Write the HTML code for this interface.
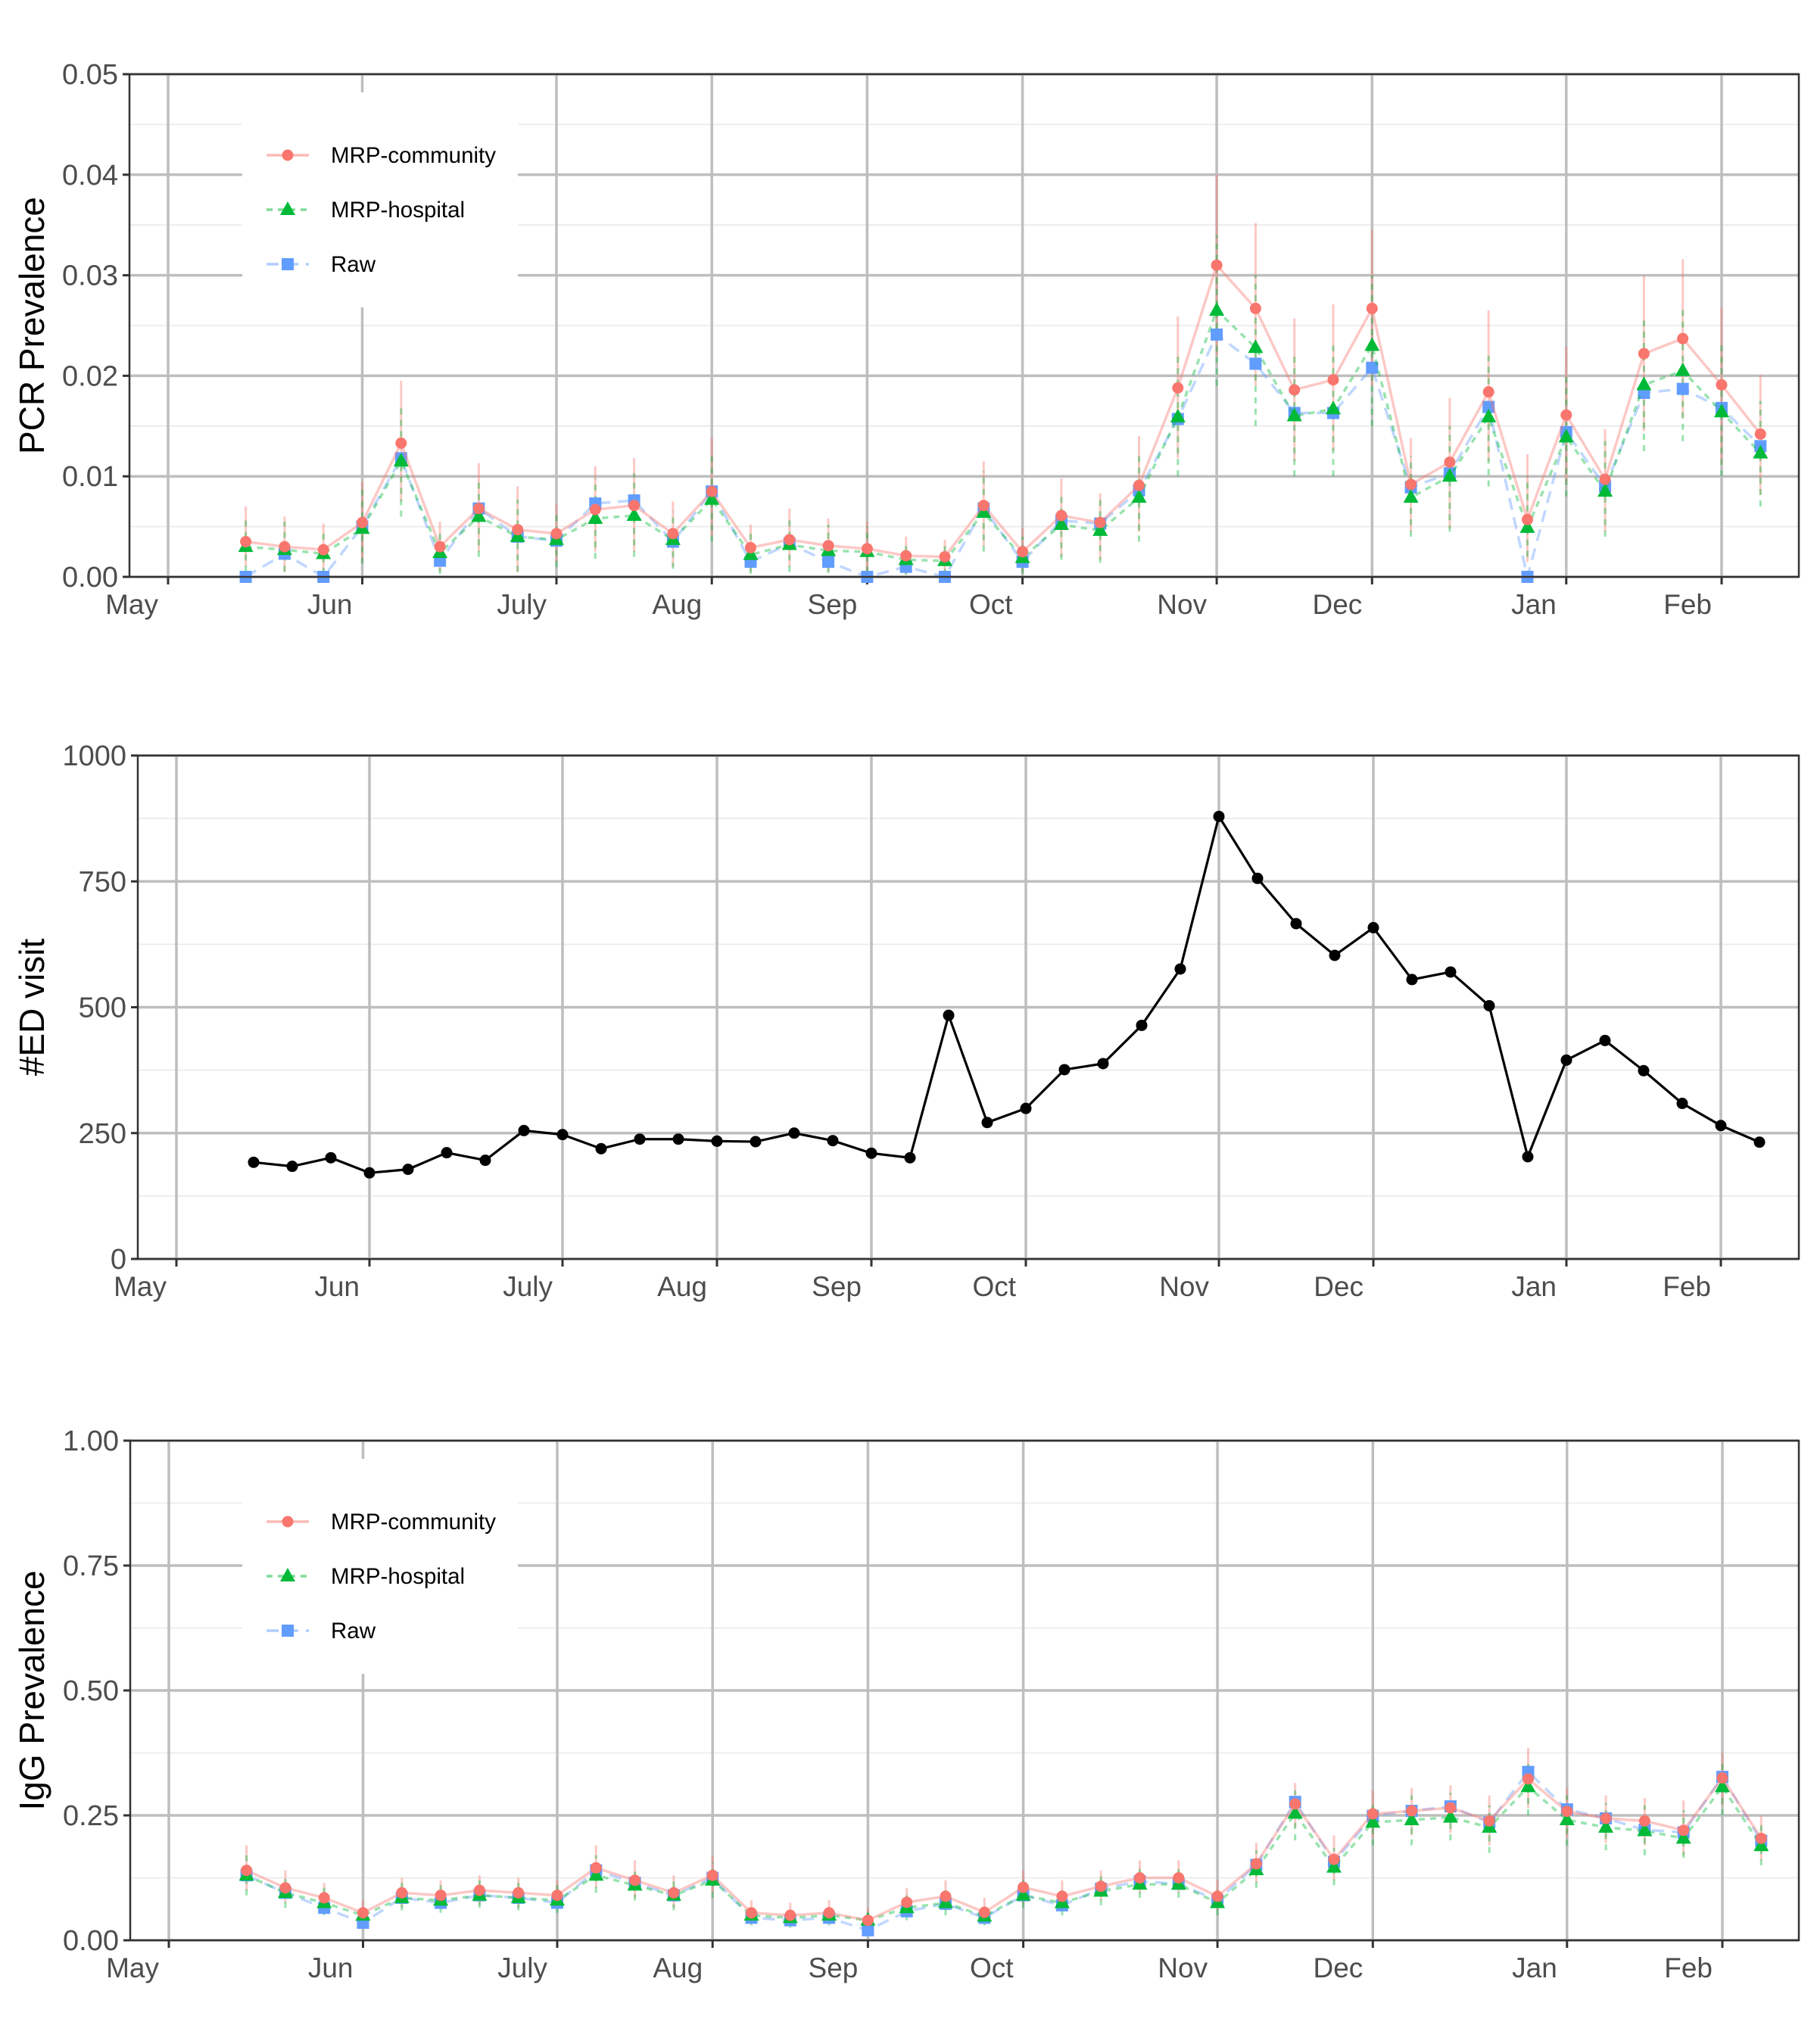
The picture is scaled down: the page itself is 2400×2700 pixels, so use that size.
<!DOCTYPE html>
<html><head><meta charset="utf-8">
<style>
html,body{margin:0;padding:0;background:#fff;}
svg{display:block;font-family:"Liberation Sans",Arial,sans-serif;}
</style></head>
<body>
<svg id="chart" width="2400" height="2700" viewBox="0 0 2400 2700" xmlns="http://www.w3.org/2000/svg"></svg>
<script>
// ---- data (weeks since start of May; points at weeks 2..41) ----
const weeks = [2,3,4,5,6,7,8,9,10,11,12,13,14,15,16,17,18,19,20,21,22,23,24,25,26,27,28,29,30,31,32,33,34,35,36,37,38,39,40,41];
const monthLabels = ["May","Jun","July","Aug","Sep","Oct","Nov","Dec","Jan","Feb"];
const monthWeeks = [0,5,10,14,18,22,27,31,36,40];

const pcrCommunity = [.0035,.003,.0027,.0054,.0133,.003,.0068,.0047,.0043,.0067,.0071,.0043,.0085,.0029,.0037,.0031,.0028,.0021,.002,.0071,.0025,.0061,.0054,.0091,.0188,.031,.0267,.0186,.0196,.0267,.0092,.0114,.0184,.0057,.0161,.0097,.0222,.0237,.0191,.0142];
const pcrCommunityLo = [.001,.0005,.0005,.0015,.0075,.0005,.0025,.0005,.0015,.0025,.0025,.001,.004,.0005,.001,.0005,.0005,.0003,.0003,.003,.0005,.002,.0017,.0045,.0118,.022,.019,.0115,.0125,.019,.0045,.0048,.0115,.0015,.0092,.0045,.0145,.0158,.0113,.0082];
const pcrCommunityHi = [.007,.006,.0053,.0095,.0195,.0055,.0113,.009,.0072,.011,.0118,.0075,.0138,.0052,.0068,.0058,.0055,.004,.0037,.0115,.0048,.0098,.0083,.014,.0259,.040,.0352,.0257,.0271,.0345,.0138,.0178,.0265,.0122,.0229,.0147,.030,.0316,.0268,.0201];
const pcrHospital = [.003,.0027,.0023,.0048,.0115,.0024,.006,.004,.0037,.0058,.0061,.0037,.0077,.0022,.0032,.0026,.0025,.0017,.0016,.0064,.0019,.0052,.0046,.0079,.0159,.0265,.0228,.016,.0167,.023,.0079,.01,.0159,.0049,.0139,.0085,.0191,.0205,.0164,.0123];
const pcrHospitalLo = [.0005,.0005,.0003,.0013,.006,.0003,.002,.0005,.001,.0018,.002,.0008,.0035,.0003,.0005,.0004,.0004,.0002,.0002,.0025,.0003,.0017,.0014,.0035,.010,.019,.015,.010,.010,.015,.004,.0045,.009,.002,.008,.004,.0125,.0135,.010,.007];
const pcrHospitalHi = [.006,.0055,.0047,.0088,.0168,.0048,.0098,.0077,.0063,.0098,.0103,.0065,.0125,.0045,.006,.0052,.005,.0035,.0033,.0105,.004,.0085,.0077,.012,.022,.034,.03,.022,.023,.03,.012,.015,.022,.010,.02,.0135,.0255,.027,.023,.0175];
const pcrRaw = [0,.0023,0,.005,.0118,.0016,.0068,.004,.0036,.0073,.0076,.0035,.0085,.0015,.0033,.0015,0,.001,0,.0068,.0015,.0056,.0053,.0086,.0157,.0241,.0212,.0163,.0163,.0208,.0089,.0103,.0169,0,.0144,.009,.0183,.0187,.0168,.013];

const edVisits = [192,184,201,171,178,211,196,255,247,219,238,238,234,233,250,235,210,201,484,271,299,376,388,464,576,879,756,666,603,658,555,570,503,203,395,434,374,309,265,232];

const iggCommunity = [.14,.105,.085,.055,.095,.09,.1,.095,.09,.145,.12,.095,.13,.055,.05,.055,.04,.076,.088,.056,.106,.088,.108,.125,.125,.088,.153,.273,.162,.253,.259,.265,.239,.323,.258,.244,.239,.22,.325,.204];
const iggCommunityLo = [.1,.075,.06,.035,.065,.065,.07,.065,.065,.105,.085,.065,.095,.035,.03,.035,.025,.05,.06,.035,.075,.06,.08,.095,.095,.06,.115,.225,.12,.205,.21,.215,.19,.265,.205,.195,.19,.17,.27,.16];
const iggCommunityHi = [.19,.14,.115,.08,.125,.12,.13,.125,.12,.19,.16,.13,.17,.08,.075,.08,.065,.105,.12,.085,.14,.12,.14,.16,.16,.12,.195,.315,.21,.3,.305,.31,.29,.385,.305,.29,.285,.28,.375,.25];
const iggHospital = [.13,.095,.075,.05,.085,.08,.09,.085,.08,.13,.11,.09,.12,.05,.045,.05,.04,.065,.075,.048,.09,.075,.098,.112,.112,.075,.141,.254,.146,.236,.241,.246,.226,.307,.241,.226,.219,.204,.307,.189];
const iggHospitalLo = [.09,.065,.05,.03,.06,.055,.065,.06,.055,.095,.08,.06,.085,.03,.025,.03,.02,.04,.05,.03,.065,.05,.07,.085,.085,.05,.105,.2,.11,.19,.19,.2,.175,.25,.19,.18,.17,.165,.25,.15];
const iggHospitalHi = [.17,.13,.105,.075,.115,.11,.12,.115,.11,.17,.145,.12,.155,.075,.07,.075,.06,.09,.1,.07,.12,.1,.13,.145,.145,.1,.18,.3,.185,.28,.29,.295,.27,.36,.29,.275,.27,.26,.36,.235];
const iggRaw = [.13,.095,.065,.035,.085,.075,.09,.085,.075,.14,.115,.09,.125,.045,.04,.045,.02,.058,.073,.045,.09,.07,.103,.118,.113,.08,.151,.277,.157,.249,.259,.268,.236,.337,.262,.244,.221,.216,.327,.199];

const pcrTicks = [0,0.01,0.02,0.03,0.04,0.05];
const pcrTickLabels = ["0.00","0.01","0.02","0.03","0.04","0.05"];
const edTicks = [0,250,500,750,1000];
const edTickLabels = ["0","250","500","750","1000"];
const iggTicks = [0,0.25,0.5,0.75,1];
const iggTickLabels = ["0.00","0.25","0.50","0.75","1.00"];

const NS = "http://www.w3.org/2000/svg";
const svg = document.getElementById("chart");
function mk(tag, attrs, parent){
  const e = document.createElementNS(NS, tag);
  for (const k in attrs) e.setAttribute(k, attrs[k]);
  (parent||svg).appendChild(e);
  return e;
}
const COL = {c:"#F8766D", h:"#00BA38", r:"#619CFF"};

function panel(cfg){
  const g = mk("g", {});
  
  
  const xs = w => cfg.x0 + w*cfg.wk;
  const ys = v => cfg.bottom - (v/cfg.ymax)*(cfg.bottom-cfg.top);
  for (let i=0;i<cfg.ticks.length-1;i++){
    const v = (cfg.ticks[i]+cfg.ticks[i+1])/2;
    const l = mk("line",{x1:cfg.left,x2:cfg.right,y1:ys(v),y2:ys(v),stroke:"#ebebeb","stroke-width":1.8},g);
    
    
  }
  cfg.ticks.forEach((v,i)=>{
    const l = mk("line",{x1:cfg.left,x2:cfg.right,y1:ys(v),y2:ys(v),stroke:"#bebebe","stroke-width":3.5},g);
    
    
    const t = mk("line",{x1:cfg.left-9,x2:cfg.left,y1:ys(v),y2:ys(v),stroke:"#333","stroke-width":3},g);
    
    
    const tx = mk("text",{x:cfg.left-15,y:ys(v)+13,"text-anchor":"end","font-size":38,fill:"#4d4d4d"},g);
    tx.textContent = cfg.labels[i];
    
    
  });
  monthWeeks.forEach((w,i)=>{
    const l = mk("line",{x1:xs(w),x2:xs(w),y1:cfg.top,y2:cfg.bottom,stroke:"#bebebe","stroke-width":3.5},g);
    
    
    const t = mk("line",{x1:xs(w),x2:xs(w),y1:cfg.bottom,y2:cfg.bottom+10,stroke:"#333","stroke-width":3},g);
    
    
    const tx = mk("text",{x:xs(w)-13,y:cfg.bottom+49,"text-anchor":"end","font-size":37,fill:"#4d4d4d"},g);
    tx.textContent = monthLabels[i];
    
    
  });
  const yt = mk("text",{x:0,y:0,"text-anchor":"middle","font-size":46,fill:"#000",transform:`translate(${cfg.titleX},${(cfg.top+cfg.bottom)/2}) rotate(-90)`},g);
  yt.textContent = cfg.title;
  
  
  return {g,xs,ys};
}

function series(p, vals, color, dash, shape, name){
  const pts = vals.map((v,i)=>`${p.xs(weeks[i])},${p.ys(v)}`).join(" ");
  const pl = mk("polyline",{points:pts,fill:"none",stroke:color,"stroke-width":3.5,"stroke-opacity":0.4,"stroke-dasharray":dash},p.g);
  
  
  vals.forEach((v,i)=>{
    const x=p.xs(weeks[i]), y=p.ys(v);
    let m;
    if (shape==="circle") m = mk("circle",{cx:x,cy:y,r:7.5,fill:color},p.g);
    else if (shape==="tri") m = mk("polygon",{points:`${x},${y-11} ${x-10},${y+7} ${x+10},${y+7}`,fill:color},p.g);
    else m = mk("rect",{x:x-8,y:y-8,width:16,height:16,fill:color},p.g);
    
    
  });
}
function errbars(p, lo, hi, color, dash, name){
  lo.forEach((v,i)=>{
    const x=p.xs(weeks[i]);
    const l = mk("line",{x1:x,x2:x,y1:p.ys(v),y2:p.ys(hi[i]),stroke:color,"stroke-width":3,"stroke-opacity":0.4,"stroke-dasharray":dash},p.g);
    
    
  });
}
function legend(p, cfg){
  const lg = mk("g",{},p.g);
  
  
  const bx = mk("rect",{x:320,y:cfg.top+24,width:364,height:284,fill:"#fff"},lg);
  
  
  const items = [["MRP-community",COL.c,"none","circle"],["MRP-hospital",COL.h,"8,7","tri"],["Raw",COL.r,"16,10","sq"]];
  items.forEach((it,i)=>{
    const y = cfg.top+107+i*72;
    const e = mk("g",{},lg);
    
    
    mk("line",{x1:352,x2:408,y1:y,y2:y,stroke:it[1],"stroke-width":3.5,"stroke-opacity":0.5,"stroke-dasharray":it[2]},e);
    const x=380;
    if (it[3]==="circle") mk("circle",{cx:x,cy:y,r:7.5,fill:it[1]},e);
    else if (it[3]==="tri") mk("polygon",{points:`${x},${y-11} ${x-10},${y+7} ${x+10},${y+7}`,fill:it[1]},e);
    else mk("rect",{x:x-8,y:y-8,width:16,height:16,fill:it[1]},e);
    const t = mk("text",{x:437,y:y+10,"font-size":29.5,fill:"#000"},e);
    t.textContent = it[0];
  });
}
function border(p,cfg){
  const b = mk("rect",{x:cfg.left,y:cfg.top,width:cfg.right-cfg.left,height:cfg.bottom-cfg.top,fill:"none",stroke:"#333","stroke-width":2.5},p.g);
  
  
}

const c1 = {name:"pcr-panel",left:171,right:2376,top:98,bottom:762,x0:222,wk:51.3,ymax:0.05,ticks:pcrTicks,labels:pcrTickLabels,title:"PCR Prevalence",titleX:58};
const p1 = panel(c1);
legend(p1,c1);
errbars(p1,pcrCommunityLo,pcrCommunityHi,COL.c,"none","pcr-community");
errbars(p1,pcrHospitalLo,pcrHospitalHi,COL.h,"8,7","pcr-hospital");
series(p1,pcrRaw,COL.r,"16,10","sq","pcr-raw");
series(p1,pcrHospital,COL.h,"8,7","tri","pcr-hospital");
series(p1,pcrCommunity,COL.c,"none","circle","pcr-community");
border(p1,c1);

const c2 = {name:"ed-panel",left:182,right:2376,top:998,bottom:1663,x0:233,wk:51.0,ymax:1000,ticks:edTicks,labels:edTickLabels,title:"#ED visit",titleX:58};
const p2 = panel(c2);
{
  const pts = edVisits.map((v,i)=>`${p2.xs(weeks[i])},${p2.ys(v)}`).join(" ");
  const pl = mk("polyline",{points:pts,fill:"none",stroke:"#000","stroke-width":3.2},p2.g);
  
  
  edVisits.forEach((v,i)=>{
    const c = mk("circle",{cx:p2.xs(weeks[i]),cy:p2.ys(v),r:7.5,fill:"#000"},p2.g);
    
    
  });
}
border(p2,c2);

const c3 = {name:"igg-panel",left:172,right:2376,top:1903,bottom:2563,x0:223,wk:51.3,ymax:1,ticks:iggTicks,labels:iggTickLabels,title:"IgG Prevalence",titleX:58};
const p3 = panel(c3);
legend(p3,c3);
errbars(p3,iggCommunityLo,iggCommunityHi,COL.c,"none","igg-community");
errbars(p3,iggHospitalLo,iggHospitalHi,COL.h,"8,7","igg-hospital");
series(p3,iggRaw,COL.r,"16,10","sq","igg-raw");
series(p3,iggHospital,COL.h,"8,7","tri","igg-hospital");
series(p3,iggCommunity,COL.c,"none","circle","igg-community");
border(p3,c3);
</script>
</body></html>
